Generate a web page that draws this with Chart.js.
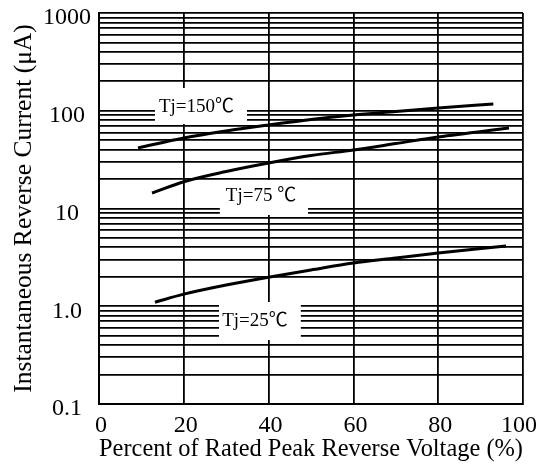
<!DOCTYPE html>
<html>
<head>
<meta charset="utf-8">
<script src="https://cdn.jsdelivr.net/npm/chart.js@4.4.0/dist/chart.umd.min.js"></script>
<style>
  html, body { margin: 0; padding: 0; background: #fff; }
  #wrap { width: 538px; height: 467px; position: relative; }
</style>
</head>
<body>
<div id="wrap"><canvas id="chart"></canvas></div>
<script>
// values (x = % of rated voltage, y = uA)
const voltagePct150 = [9.2, 20, 30, 40, 50, 60, 70, 80, 93];
const current150 = [41.6, 52.6, 62.1, 71.5, 81.4, 90.5, 98.2, 106.7, 117];
const voltagePct75 = [12.5, 20, 30, 40, 50, 60, 70, 80, 96.7];
const current75 = [14.4, 18.8, 23.9, 29.2, 34.8, 39.7, 46.2, 53.9, 66.6];
const voltagePct25 = [13.2, 20, 30, 40, 50, 60, 70, 80, 96];
const current25 = [1.10, 1.33, 1.65, 1.98, 2.35, 2.77, 3.12, 3.51, 4.13];

const xTicks = [0, 20, 40, 60, 80, 100];
const yTickValues = [0.1, 1, 10, 100, 1000];
const yTickLabels = ['0.1', '1.0', '10', '100', '1000'];
const curveLabels = ['Tj=150℃', 'Tj=75 ℃', 'Tj=25℃'];

// white label boxes that cut the grid (in data units)
const labelBoxes = [
  { x0: 13.2, x1: 34.9, y0: 73, y1: 171, tx: 23.0, ty: 97 },
  { x0: 28.5, x1: 49.3, y0: 8.58, y1: 19.6, tx: 38.2, ty: 12.0 },
  { x0: 28.3, x1: 47.6, y0: 0.451, y1: 1.105, tx: 36.8, ty: 0.628 }
];

const serif = '"Liberation Serif", "Noto Sans CJK JP", "DejaVu Serif", serif';

const toPoints = (xs, ys) => xs.map((v, i) => ({ x: v, y: ys[i] }));

// 1..9 per decade for the log grid
const yGrid = [];
[0.1, 1, 10, 100].forEach(d => {
  for (let k = 1; k <= 9; k++) yGrid.push(d * k);
});
yGrid.push(1000);

const labelPlugin = {
  id: 'curveLabels',
  beforeDatasetsDraw(chart) {
    const { ctx, scales: { x, y } } = chart;
    ctx.save();
    labelBoxes.forEach((b, i) => {
      const left = x.getPixelForValue(b.x0);
      const right = x.getPixelForValue(b.x1);
      const top = y.getPixelForValue(b.y1);
      const bottom = y.getPixelForValue(b.y0);
      ctx.fillStyle = '#fff';
      ctx.fillRect(left, top, right - left, bottom - top);
      ctx.fillStyle = '#000';
      ctx.font = '19px ' + serif;
      ctx.textAlign = 'center';
      ctx.textBaseline = 'alphabetic';
      ctx.fillText(curveLabels[i], x.getPixelForValue(b.tx), y.getPixelForValue(b.ty));
    });
    ctx.restore();
  },
  // x tick labels drawn here so the last one stays inside the canvas
  afterDraw(chart) {
    const { ctx, chartArea, scales: { x } } = chart;
    ctx.save();
    ctx.fillStyle = '#000';
    ctx.font = '24px ' + serif;
    ctx.textAlign = 'center';
    ctx.textBaseline = 'alphabetic';
    xTicks.forEach(v => {
      const label = String(v);
      const w = ctx.measureText(label).width;
      const cx = Math.min(x.getPixelForValue(v) + 2, chart.width - 1 - w / 2);
      ctx.fillText(label, cx, chartArea.bottom + 28);
    });
    ctx.restore();
  }
};

const line = (data) => ({
  data: data,
  borderColor: '#000',
  borderWidth: 3,
  pointRadius: 0,
  fill: false,
  cubicInterpolationMode: 'monotone'
});

new Chart(document.getElementById('chart'), {
  type: 'line',
  data: {
    datasets: [
      line(toPoints(voltagePct150, current150)),
      line(toPoints(voltagePct75, current75)),
      line(toPoints(voltagePct25, current25))
    ]
  },
  options: {
    responsive: true,
    maintainAspectRatio: false,
    animation: false,
    layout: { padding: { top: 13, right: 15, bottom: 0, left: 0 } },
    plugins: {
      legend: { display: false },
      tooltip: { enabled: false }
    },
    scales: {
      x: {
        type: 'linear',
        min: 0,
        max: 100,
        afterBuildTicks: s => { s.ticks = xTicks.map(v => ({ value: v })); },
        afterFit: s => { s.height = 63; s.paddingLeft = 0; s.paddingRight = 0; },
        grid: { color: '#000', lineWidth: 1.8, drawTicks: false },
        border: { color: '#000', width: 2 },
        ticks: { display: false },
        title: {
          display: true,
          text: 'Percent of Rated Peak Reverse Voltage (%)',
          color: '#000',
          font: { family: serif, size: 25.8 },
          padding: { top: 0, bottom: 2 }
        }
      },
      y: {
        type: 'logarithmic',
        min: 0.1,
        max: 1000,
        afterBuildTicks: s => { s.ticks = yGrid.map(v => ({ value: v })); },
        afterFit: s => { s.width = 99; s.paddingTop = 0; s.paddingBottom = 0; },
        grid: { color: '#000', lineWidth: 1.8, drawTicks: false },
        border: { color: '#000', width: 2 },
        ticks: {
          color: '#000',
          font: { family: serif, size: 24 },
          padding: 8,
          crossAlign: 'center',
          labelOffset: 5,
          autoSkip: false,
          callback: v => {
            const i = yTickValues.findIndex(t => Math.abs(t - v) < t * 1e-6);
            return i >= 0 ? yTickLabels[i] : '';
          }
        },
        title: {
          display: true,
          text: 'Instantaneous Reverse Current (μA)',
          color: '#000',
          font: { family: serif, size: 25.5 },
          padding: { top: 9, bottom: 0 }
        }
      }
    }
  },
  plugins: [labelPlugin]
});
</script>
</body>
</html>
